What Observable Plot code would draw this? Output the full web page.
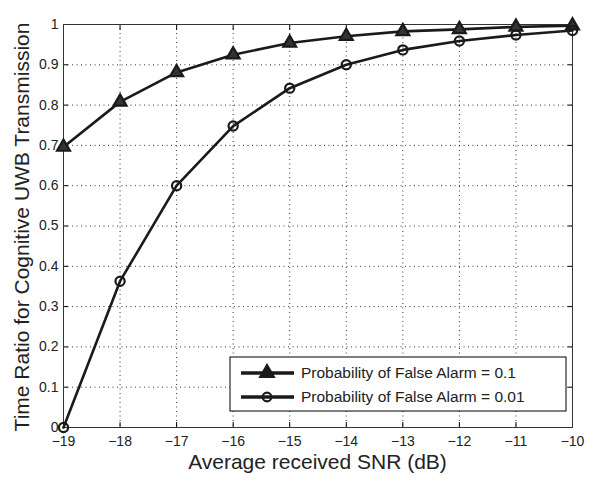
<!DOCTYPE html>
<html><head><meta charset="utf-8">
<script src="https://cdn.jsdelivr.net/npm/d3@7"></script>
<script src="https://cdn.jsdelivr.net/npm/@observablehq/plot@0.6"></script>
<style>
body{margin:0;background:#fff;}
svg{font-family:"Liberation Sans",Arial,sans-serif;}
</style>
</head><body><div id="chart"></div>
<script>
const snr = [-19,-18,-17,-16,-15,-14,-13,-12,-11,-10];
const pfa01 = [0.696,0.808,0.881,0.925,0.954,0.971,0.983,0.988,0.994,0.997];
const pfa001 = [0.0,0.363,0.600,0.748,0.842,0.900,0.937,0.959,0.974,0.985];
const seriesNames = ["Probability of False Alarm = 0.1","Probability of False Alarm = 0.01"];
const xTicks = [-19,-18,-17,-16,-15,-14,-13,-12,-11,-10];
const yTicks = [0,0.1,0.2,0.3,0.4,0.5,0.6,0.7,0.8,0.9,1];
const yTickLabels = ["0","0.1","0.2","0.3","0.4","0.5","0.6","0.7","0.8","0.9","1"];

const data = [
  ...snr.map((x,i)=>({x, y:pfa01[i], s:seriesNames[0]})),
  ...snr.map((x,i)=>({x, y:pfa001[i], s:seriesNames[1]}))
];
const d1 = data.filter(d=>d.s===seriesNames[0]);
const d2 = data.filter(d=>d.s===seriesNames[1]);
const fmtX = d => (d<0 ? "\u2212"+Math.abs(d) : String(d));
const fmtY = d => yTickLabels[yTicks.indexOf(d)];

const chart = Plot.plot({
  width:600, height:484,
  marginLeft:63, marginRight:28, marginTop:24, marginBottom:57,
  style:{fontFamily:"Liberation Sans, Arial, sans-serif", fontSize:"14px", color:"#222", background:"#fff"},
  x:{domain:[-19,-10]},
  y:{domain:[0,1]},
  marks:[
    Plot.gridX(xTicks,{stroke:"#000", strokeOpacity:0.8, strokeDasharray:"1,3.5", strokeWidth:1}),
    Plot.gridY(yTicks,{stroke:"#000", strokeOpacity:0.8, strokeDasharray:"1,3.5", strokeWidth:1}),
    Plot.axisX(xTicks,{anchor:"bottom", tickSize:0, tickPadding:9, tickFormat:fmtX, fontSize:14, fill:"#222", label:null}),
    Plot.axisX(xTicks,{anchor:"bottom", tickSize:-5, tickFormat:()=>"", label:null, stroke:"#000"}),
    Plot.axisX(xTicks,{anchor:"top", tickSize:-5, tickFormat:()=>"", label:null, stroke:"#000"}),
    Plot.axisY(yTicks,{anchor:"left", tickSize:0, tickPadding:5, tickFormat:fmtY, fontSize:14, fill:"#222", label:null}),
    Plot.axisY(yTicks,{anchor:"left", tickSize:-5, tickFormat:()=>"", label:null, stroke:"#000"}),
    Plot.axisY(yTicks,{anchor:"right", tickSize:-5, tickFormat:()=>"", label:null, stroke:"#000"}),
    Plot.frame({stroke:"#333", strokeWidth:1}),
    Plot.line(d1,{x:"x", y:"y", stroke:"#1a1a1a", strokeWidth:2.6}),
    Plot.line(d2,{x:"x", y:"y", stroke:"#1a1a1a", strokeWidth:2.6}),
    Plot.dot(d1,{x:"x", y:"y", symbol:"triangle", r:4.8, stroke:"#1a1a1a", strokeWidth:2.2, fill:"#333"}),
    Plot.dot(d2,{x:"x", y:"y", symbol:"circle", r:4.6, stroke:"#1a1a1a", strokeWidth:2.2, fill:"none"})
  ]
});
document.getElementById("chart").appendChild(chart);

const svg = d3.select(chart);
// axis labels
svg.append("text").attr("x",(63+572)/2).attr("y",469)
  .attr("text-anchor","middle").attr("font-size",21).attr("fill","#222")
  .text("Average received SNR (dB)");
svg.append("text").attr("transform",`translate(23,${(24+430)/2}) rotate(-90)`)
  .attr("text-anchor","middle").attr("dominant-baseline","middle").attr("font-size",21).attr("fill","#222")
  .text("Time Ratio for Cognitive UWB Transmission");

// legend
const lg = svg.append("g");
lg.append("rect").attr("x",230).attr("y",357).attr("width",336).attr("height",54)
  .attr("fill","#fff").attr("stroke","#000").attr("stroke-width",1);
const rows = [
  {name:seriesNames[0], y:373, sym:d3.symbolTriangle},
  {name:seriesNames[1], y:397, sym:d3.symbolCircle}
];
rows.forEach(r=>{
  lg.append("line").attr("x1",241).attr("x2",294).attr("y1",r.y).attr("y2",r.y)
    .attr("stroke","#1a1a1a").attr("stroke-width",3.5);
  lg.append("path").attr("d",d3.symbol(r.sym, r.sym===d3.symbolCircle?60:80)())
    .attr("transform",`translate(267,${r.y})`)
    .attr("fill", r.sym===d3.symbolCircle?"none":"#1a1a1a").attr("stroke","#1a1a1a").attr("stroke-width",2.2);
  lg.append("text").attr("x",301).attr("y",r.y).attr("dy","0.35em").attr("text-anchor","start")
    .attr("font-size",15.5).attr("fill","#222").text(r.name);
});
</script>
</body></html>
